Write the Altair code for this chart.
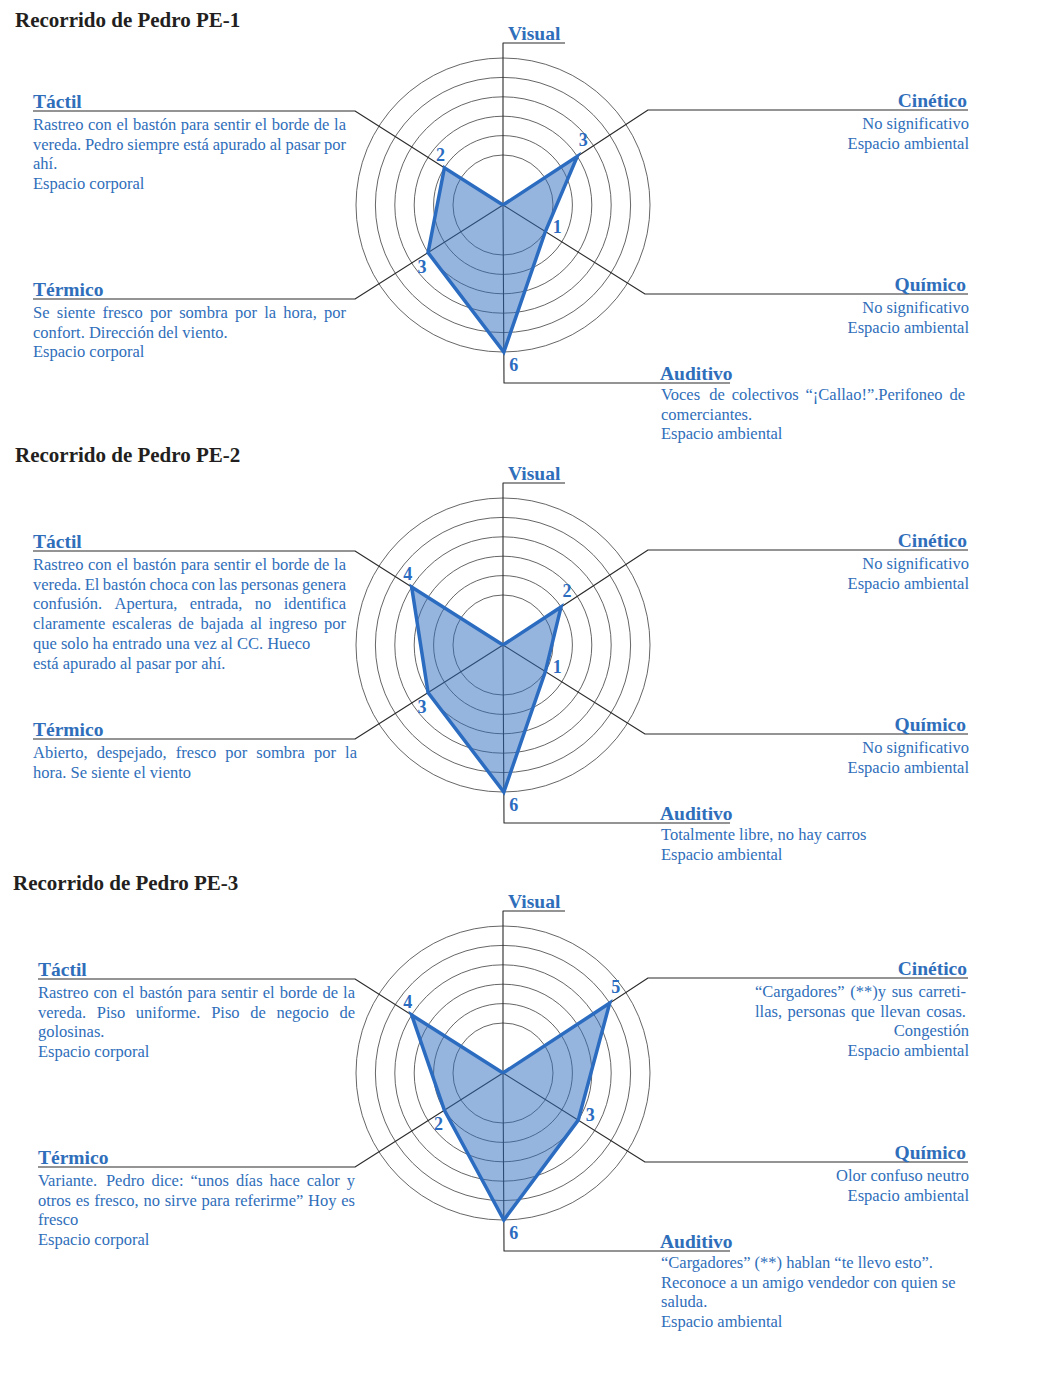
import math
import altair as alt
import pandas as pd

# ------------------------------------------------------------------ data
categories = ["Visual", "Cinético", "Químico", "Auditivo", "Térmico", "Táctil"]
titles = ["Recorrido de Pedro PE-1", "Recorrido de Pedro PE-2", "Recorrido de Pedro PE-3"]
values_pe1 = [0, 3, 1, 6, 3, 2]
values_pe2 = [0, 2, 1, 6, 3, 4]
values_pe3 = [0, 5, 3, 6, 2, 4]
rings = [1, 2, 3, 4, 5, 6]

desc_pe1 = {
    "Cinético": ["No significativo", "Espacio ambiental"],
    "Químico": ["No significativo", "Espacio ambiental"],
    "Auditivo": ["Voces de colectivos “¡Callao!”.Perifoneo de", "comerciantes.", "Espacio ambiental"],
    "Térmico": ["Se siente fresco por sombra por la hora, por", "confort. Dirección del viento.", "Espacio corporal"],
    "Táctil": ["Rastreo con el bastón para sentir el borde de la",
               "vereda.  Pedro siempre está apurado al pasar por", "ahí.", "Espacio corporal"],
}
desc_pe2 = {
    "Cinético": ["No significativo", "Espacio ambiental"],
    "Químico": ["No significativo", "Espacio ambiental"],
    "Auditivo": ["Totalmente libre, no hay carros", "Espacio ambiental"],
    "Térmico": ["Abierto, despejado, fresco por sombra por la", "hora. Se siente el viento"],
    "Táctil": ["Rastreo con el bastón para sentir el borde de la",
               "vereda. El bastón choca con las personas genera",
               "confusión. Apertura, entrada, no identifica",
               "claramente escaleras de bajada al ingreso por",
               "que solo ha entrado una vez al CC. Hueco",
               "está apurado al pasar por ahí."],
}
desc_pe3 = {
    "Cinético": ["“Cargadores” (**)y sus carreti-", "llas, personas que llevan cosas.", "Congestión", "Espacio ambiental"],
    "Químico": ["Olor confuso neutro", "Espacio ambiental"],
    "Auditivo": ["“Cargadores” (**) hablan “te llevo esto”.",
                 "Reconoce a un amigo vendedor con quien se", "saluda.", "Espacio ambiental"],
    "Térmico": ["Variante. Pedro dice: “unos días hace calor y",
                "otros es fresco, no sirve para referirme” Hoy es", "fresco", "Espacio corporal"],
    "Táctil": ["Rastreo con el bastón para sentir el borde de la",
               "vereda. Piso uniforme. Piso de negocio de", "golosinas.", "Espacio corporal"],
}
panel_values = [values_pe1, values_pe2, values_pe3]
panel_desc = [desc_pe1, desc_pe2, desc_pe3]

# ------------------------------------------------------------------ layout (page pixels)
W_CHART, H_CHART = 1026, 1352
CX = 503
CY = [205, 645, 1073]
TITLE_XY = [(15, 27), (15, 462), (13, 890)]
LEFT_X = [33, 33, 38]
R1, STEP = 50, 19.4          # radius of ring 1 and spacing between rings
CORNER = {"Visual": (0, -162), "Cinético": (145, -95), "Químico": (142, 89),
          "Auditivo": (1, 178), "Térmico": (-148, 94), "Táctil": (-148, -94)}
END_X = {"Visual": 62, "Cinético": 465, "Químico": 465, "Auditivo": 227}
LABEL_X = {"Visual": (5, "left"), "Cinético": (464, "right"), "Químico": (463, "right"),
           "Auditivo": (157, "left")}
DESC_X = {"Cinético": (466, "right"), "Químico": (466, "right"), "Auditivo": (158, "left")}
VAL_OFF = {"Cinético": (6, -15), "Químico": (12, -4), "Auditivo": (10, 14),
           "Térmico": (-6, 15), "Táctil": (-4, -12), "Visual": (0, -12)}
LINE_H = 19.7
DESC_SIZE = 16.5
# justified lines: (panel, axis) -> (left edge, right edge, line indices)
JUSTIFY = {
    (0, "Táctil"): (33, 346, [0, 1]), (0, "Térmico"): (33, 346, [0]), (0, "Auditivo"): (661, 965, [0]),
    (1, "Táctil"): (33, 346, [0, 1, 2, 3]), (1, "Térmico"): (33, 357, [0]),
    (2, "Táctil"): (38, 355, [0, 1]), (2, "Térmico"): (38, 355, [0, 1]), (2, "Cinético"): (755, 966, [0, 1]),
}

BLUE = "#2F6EBA"
POLY = "#2B6CC0"
FONT = "Liberation Serif"

# approximate advance widths of a Times-like serif (per 1000 em), for justification
_TW = {" ": 250, "!": 333, "(": 333, ")": 333, "*": 500, ",": 250, "-": 333, ".": 250, ":": 278,
       ";": 278, "?": 444, "¡": 333, "“": 444, "”": 444}
_TW.update({c: w for c, w in zip("abcdefghijklmnopqrstuvwxyz",
                                 [444, 500, 444, 500, 444, 333, 500, 500, 278, 278, 500, 278, 778, 500,
                                  500, 500, 500, 333, 389, 278, 500, 500, 722, 500, 500, 444])})
_TW.update({c: w for c, w in zip("ABCDEFGHIJKLMNOPQRSTUVWXYZ",
                                 [722, 667, 667, 722, 611, 556, 722, 722, 333, 389, 722, 611, 889, 722,
                                  722, 556, 722, 667, 556, 611, 722, 722, 944, 722, 722, 611])})
_ACC = {"á": "a", "é": "e", "í": "i", "ó": "o", "ú": "u", "ñ": "n"}


def text_w(s, size):
    return sum(_TW.get(_ACC.get(c, c), 500) for c in s) * size / 1000.0


# ------------------------------------------------------------------ tables
poly_rows, leader_rows, ring_rows = [], [], []
label_rows, desc_rows, val_rows, title_rows = [], [], [], []
for p in range(3):
    cy = CY[p]
    lx = LEFT_X[p]
    title_rows.append({"x": TITLE_XY[p][0], "y": TITLE_XY[p][1], "text": titles[p]})
    for r in rings:
        ring_rows.append({"panel": p, "value": r, "cx": CX, "cy": cy})
    order = list(range(len(categories))) + [0]
    for k, i in enumerate(order):
        cat = categories[i]
        ox, oy = CORNER[cat]
        n = math.hypot(ox, oy)
        poly_rows.append({"panel": p, "k": k, "value": panel_values[p][i],
                          "cx": CX, "cy": cy, "ux": ox / n, "uy": oy / n})
    for i, cat in enumerate(categories):
        ox, oy = CORNER[cat]
        n = math.hypot(ox, oy)
        ex = END_X.get(cat, lx - CX)
        for s, (px, py) in enumerate([(0, 0), (ox, oy), (ex, oy)]):
            leader_rows.append({"panel": p, "cat": cat, "s": s, "x": CX + px, "y": cy + py})
        if cat in LABEL_X:
            dx, al = LABEL_X[cat]
            label_rows.append({"x": CX + dx, "y": cy + oy - 3, "text": cat, "align": al})
        else:
            label_rows.append({"x": lx, "y": cy + oy - 3, "text": cat, "align": "left"})
        lines = panel_desc[p].get(cat, [])
        if cat in DESC_X:
            dx, al = DESC_X[cat]
            x0 = CX + dx
        else:
            x0, al = lx, "left"
        first = 17 if cat == "Auditivo" else 19
        jl, jr, jidx = JUSTIFY.get((p, cat), (0, 0, []))
        for j, t in enumerate(lines):
            yy = cy + oy + first + j * LINE_H
            words = t.split()
            if j in jidx and len(words) > 1:
                ws = [text_w(w, DESC_SIZE) for w in words]
                gap = (jr - jl - sum(ws)) / (len(words) - 1)
                xx = jl
                for q, w in enumerate(words):
                    if q == len(words) - 1:
                        desc_rows.append({"x": jr, "y": yy, "text": w, "align": "right"})
                    else:
                        desc_rows.append({"x": xx, "y": yy, "text": w, "align": "left"})
                    xx += ws[q] + gap
            else:
                desc_rows.append({"x": x0, "y": yy, "text": " ".join(words), "align": al})
        v = panel_values[p][i]
        if v > 0:
            val_rows.append({"panel": p, "value": v, "cx": CX, "cy": cy, "ux": ox / n, "uy": oy / n,
                             "dx": VAL_OFF[cat][0], "dy": VAL_OFF[cat][1]})

poly_df = pd.DataFrame(poly_rows)
leader_df = pd.DataFrame(leader_rows)
ring_df = pd.DataFrame(ring_rows)
label_df = pd.DataFrame(label_rows)
desc_df = pd.DataFrame(desc_rows)
val_df = pd.DataFrame(val_rows)
title_df = pd.DataFrame(title_rows)

XS = alt.Scale(domain=[8, 8 + W_CHART])
YS = alt.Scale(domain=[8, 8 + H_CHART], reverse=True)


def X(f):
    return alt.X(f"{f}:Q", scale=XS, axis=None)


def Y(f):
    return alt.Y(f"{f}:Q", scale=YS, axis=None)


# radial position of a value: centre for 0, ring n for value n
RAD = f"datum.value == 0 ? 0 : {R1} + (datum.value - 1) * {STEP}"

ring_layer = alt.Chart(ring_df).transform_calculate(rad=RAD).mark_arc(
    filled=False, stroke="#4a4a4a", strokeWidth=0.85, theta=0, theta2=2 * math.pi
).encode(
    x=X("cx"), y=Y("cy"),
    radius=alt.Radius("rad:Q", scale=None, stack=None),
)

leader_layer = alt.Chart(leader_df).mark_line(color="#2b2b2b", strokeWidth=1.1, strokeJoin="round").encode(
    x=X("x"), y=Y("y"), order="s:Q", detail=["panel:N", "cat:N"]
)

poly_base = alt.Chart(poly_df).transform_calculate(
    rad=RAD
).transform_calculate(
    px="datum.cx + datum.rad * datum.ux", py="datum.cy + datum.rad * datum.uy"
)
poly_layer = poly_base.mark_line(
    fill=POLY, fillOpacity=0.5, stroke=POLY, strokeWidth=3.5, strokeJoin="miter", strokeMiterLimit=20
).encode(x=X("px"), y=Y("py"), order="k:Q", detail="panel:N")

val_layer = alt.Chart(val_df).transform_calculate(
    rad=RAD
).transform_calculate(
    px="datum.cx + datum.rad * datum.ux + datum.dx", py="datum.cy + datum.rad * datum.uy + datum.dy"
).mark_text(font=FONT, fontSize=18, fontWeight="bold", color=POLY, align="center", baseline="middle").encode(
    x=X("px"), y=Y("py"), text="value:Q"
)

title_layer = alt.Chart(title_df).mark_text(
    font=FONT, fontSize=21, fontWeight="bold", color="#231F20", align="left", baseline="alphabetic"
).encode(x=X("x"), y=Y("y"), text="text:N")


def text_layers(df, size, weight):
    out = []
    for al in ["left", "right"]:
        sub = df[df["align"] == al]
        if len(sub):
            out.append(alt.Chart(sub).mark_text(
                font=FONT, fontSize=size, fontWeight=weight, color=BLUE, align=al, baseline="alphabetic"
            ).encode(x=X("x"), y=Y("y"), text="text:N"))
    return out


layers = [ring_layer, leader_layer, poly_layer, val_layer, title_layer]
layers += text_layers(label_df, 19.5, "bold")
layers += text_layers(desc_df, DESC_SIZE, "normal")

chart = alt.layer(*layers).properties(
    width=W_CHART, height=H_CHART, padding=0, autosize=alt.AutoSizeParams(type="none"), background="white"
).configure_view(stroke=None)

chart.save("out.html", embed_options={"renderer": "svg", "actions": False})
